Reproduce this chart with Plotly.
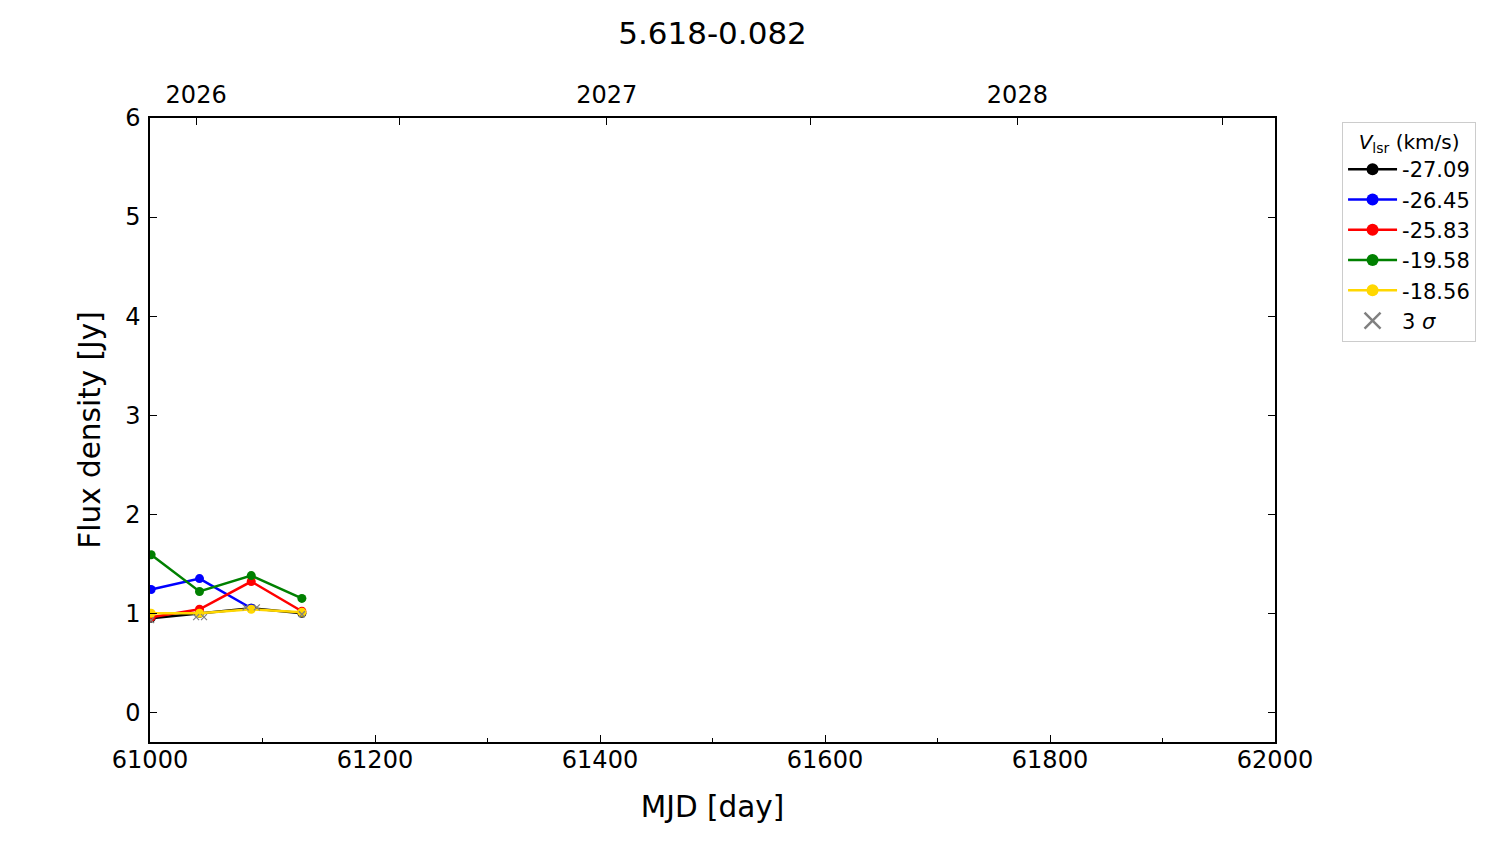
import plotly.graph_objects as go

# ---- data ----
mjd = [61001, 61044, 61090, 61135]
vlsr_labels = ["-27.09", "-26.45", "-25.83", "-19.58", "-18.56"]
flux_m27_09 = [0.95, 1.00, 1.05, 1.00]
flux_m26_45 = [1.24, 1.35, 1.05, None]
flux_m25_83 = [0.96, 1.04, 1.32, 1.02]
flux_m19_58 = [1.59, 1.22, 1.38, 1.15]
flux_m18_56 = [1.00, 1.00, 1.04, 1.01]
sigma3_mjd = [61001, 61041, 61048, 61085, 61095, 61135]
sigma3_flux = [0.93, 0.96, 0.96, 1.06, 1.06, 0.99]

mjd_ticks = [61000, 61200, 61400, 61600, 61800, 62000]
mjd_tick_labels = ["61000", "61200", "61400", "61600", "61800", "62000"]
mjd_minor = [61100, 61300, 61500, 61700, 61900]
flux_ticks = [0, 1, 2, 3, 4, 5, 6]
year_mjd = [61041, 61406, 61771]
year_labels = ["2026", "2027", "2028"]
halfyear_mjd = [61222, 61587, 61953]

series = [flux_m27_09, flux_m26_45, flux_m25_83, flux_m19_58, flux_m18_56]
colors = ["#000000", "#0000ff", "#ff0000", "#008000", "#ffd700"]

FONT = "DejaVu Sans"
fig = go.Figure()

for lab, ys, c in zip(vlsr_labels, series, colors):
    fig.add_trace(go.Scatter(
        x=mjd, y=ys, name=lab, mode="lines+markers", showlegend=False,
        line=dict(color=c, width=2.5),
        marker=dict(color=c, size=9),
    ))

fig.add_trace(go.Scatter(
    x=sigma3_mjd, y=sigma3_flux, mode="markers", showlegend=False,
    marker=dict(symbol="x-thin", size=6, line=dict(color="gray", width=1.2)),
))

# legend entries (larger symbols, as in the reference legend)
for lab, c in zip(vlsr_labels, colors):
    fig.add_trace(go.Scatter(
        x=[None], y=[None], name=lab, mode="lines+markers",
        line=dict(color=c, width=2.5), marker=dict(color=c, size=12),
    ))
fig.add_trace(go.Scatter(
    x=[None], y=[None], mode="markers", name="3 <i>σ</i>",
    marker=dict(symbol="x-thin", size=16, line=dict(color="gray", width=2.5)),
))
# invisible trace for the top (year) axis
fig.add_trace(go.Scatter(x=[61000, 62000], y=[None, None], xaxis="x2",
                         mode="markers", showlegend=False, hoverinfo="skip"))

fig.update_layout(
    width=1500, height=844,
    paper_bgcolor="white", plot_bgcolor="white",
    margin=dict(l=150, r=225, t=118, b=102, autoexpand=False),
    font=dict(family=FONT, color="black", size=24),
    title=dict(text="5.618-0.082", x=0.5, xref="paper", xanchor="center",
               y=1 - 33 / 844, yref="container", yanchor="middle",
               font=dict(size=31)),
    xaxis=dict(
        range=[61000, 62000], tickmode="array",
        tickvals=mjd_ticks, ticktext=mjd_tick_labels,
        ticks="inside", ticklen=7, tickwidth=1.2, tickcolor="black",
        minor=dict(tickvals=mjd_minor, ticks="inside", ticklen=4,
                   tickcolor="black"),
        showline=True, linecolor="black", linewidth=1.5, mirror=True,
        showgrid=False, zeroline=False,
        title=dict(text="MJD [day]", font=dict(size=29.5), standoff=24),
        tickfont=dict(size=24), ticklabelstandoff=-5,
    ),
    xaxis2=dict(
        overlaying="x", side="top", range=[61000, 62000],
        tickmode="array", tickvals=year_mjd, ticktext=year_labels,
        ticks="inside", ticklen=7, tickwidth=1.2, tickcolor="black",
        minor=dict(tickvals=halfyear_mjd, ticks="inside", ticklen=7,
                   tickcolor="black"),
        showgrid=False, zeroline=False, showline=False,
        tickfont=dict(size=24), ticklabelstandoff=9,
    ),
    yaxis=dict(
        range=[-0.3, 6], tickmode="array", tickvals=flux_ticks,
        ticks="inside", ticklen=7, tickwidth=1.2, tickcolor="black",
        showline=True, linecolor="black", linewidth=1.5, mirror="ticks",
        showgrid=False, zeroline=False,
        title=dict(text="Flux density [Jy]", font=dict(size=29.5), standoff=16),
        tickfont=dict(size=24), ticklabelstandoff=3,
    ),
    legend=dict(
        x=1.0596, y=0.9936, xanchor="left", yanchor="top",
        bgcolor="white", bordercolor="#cccccc", borderwidth=1,
        font=dict(size=21),
        title=dict(text="<i>V</i><sub>lsr</sub> (km/s)", side="top center",
                   font=dict(size=20)),
        itemwidth=49, tracegroupgap=0,
    ),
)

fig.write_html("out.html", config={"displayModeBar": False},
               post_script="document.body.style.margin='0';")
